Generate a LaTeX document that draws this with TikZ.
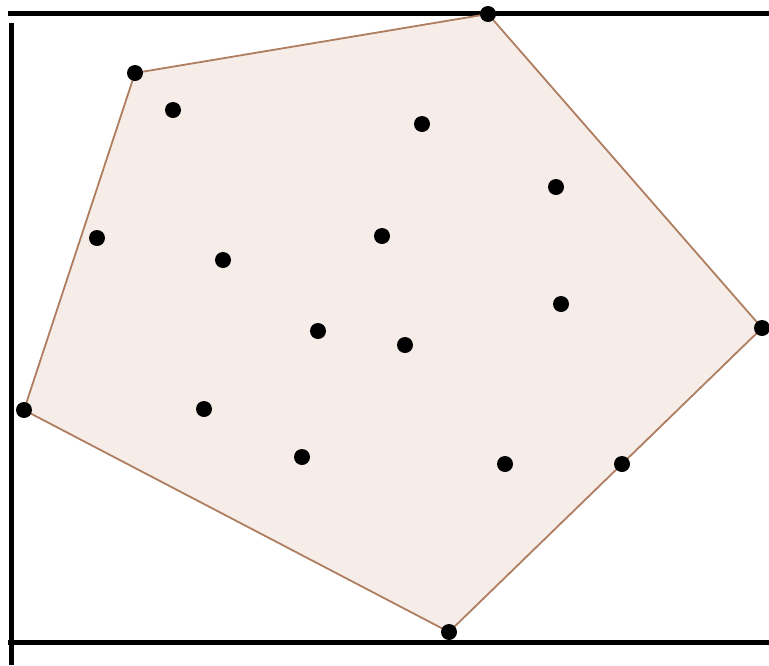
\documentclass[tikz,border=0pt]{standalone}
\definecolor{hullfill}{RGB}{246,236,232}
\definecolor{hulledge}{RGB}{175,125,95}
\tikzset{
  pt/.style={circle,fill=black,inner sep=0pt,minimum size=16pt},
  frame/.style={line width=5pt,black},
  hull/.style={draw=hulledge,line width=1.8pt,fill=hullfill}
}
\begin{document}
\begin{tikzpicture}[x=1pt,y=-1pt]
\useasboundingbox (0,0) rectangle (769,665);
% hull vertices
\coordinate (h1) at (488,14);
\coordinate (h2) at (762,328);
\coordinate (h3) at (449,632);
\coordinate (h4) at (24,410);
\coordinate (h5) at (135,73);
\fill[hullfill] (h1) -- (h2) -- (h3) -- (h4) -- (h5) -- cycle;
% frame lines
\coordinate (tl) at (8,13.5);
\coordinate (tr) at (769,13.5);
\coordinate (lt) at (11.5,23);
\coordinate (lb) at (11.5,665);
\coordinate (bl) at (8,642.5);
\coordinate (br) at (769,642.5);
\draw[frame] (tl) -- (tr);
\draw[frame] (lt) -- (lb);
\draw[frame] (bl) -- (br);
\draw[hull,fill=none] (h1) -- (h2) -- (h3) -- (h4) -- (h5) -- cycle;
% points
\foreach \n/\x/\y in {a/488/14, b/762/328, c/449/632, d/24/410, e/135/73,
  f/97/238, g/622/464, i1/173/110, i2/422/124, i3/556/187, i4/382/236,
  i5/223/260, i6/561/304, i7/318/331, i8/405/345, i9/204/409, i10/302/457,
  i11/505/464}
  \node[pt] (\n) at (\x,\y) {};
\end{tikzpicture}
\end{document}
